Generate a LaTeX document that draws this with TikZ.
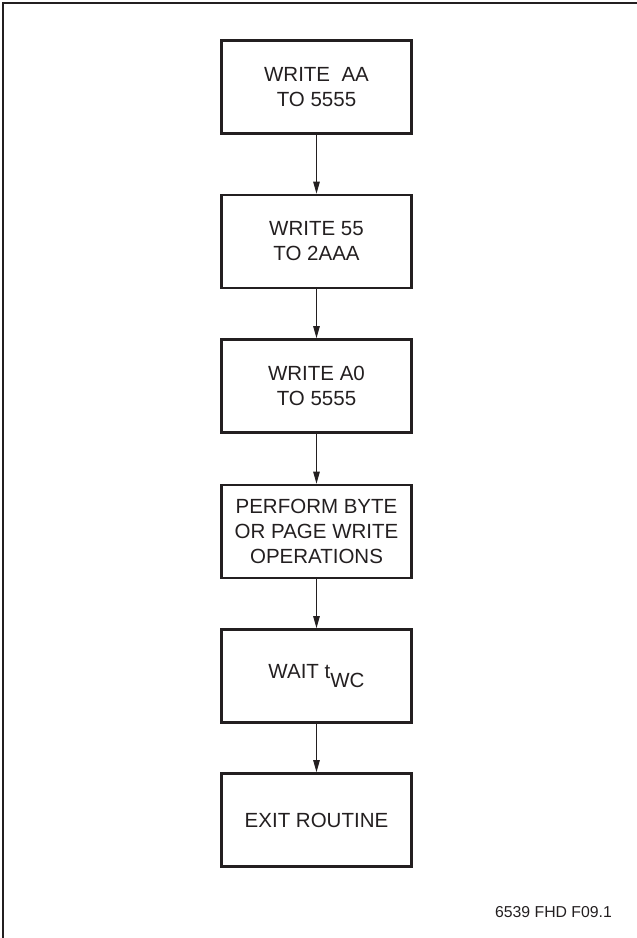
\documentclass[tikz,border=0pt]{standalone}
\usepackage{fontspec}
\setmainfont{Liberation Sans}
\usetikzlibrary{arrows.meta}

\definecolor{ink}{HTML}{231F20}
\tikzset{
  stepbox/.style={draw=ink,line width=2.6pt,minimum width=190pt,minimum height=93pt,
    align=center,text=ink,font=\fontsize{20.5}{25}\selectfont,inner sep=0pt},
  flow/.style={draw=ink,line width=1pt,-{Triangle[length=12pt,width=6.5pt]}}
}

\begin{document}
\begin{tikzpicture}[x=1pt,y=-1pt]
\useasboundingbox (0,0) rectangle (637,938);
% frame (only top and left edges show)
\draw[ink][line width=1.5pt](3,945)--(3,3)--(645,3);
\node (w1) at (316.5,87) [stepbox]{WRITE\ \ AA\\TO 5555};
\node (w2) at (316.5,241.5) [stepbox]{WRITE 55\\TO 2AAA};
\node (w3) at (316.5,386) [stepbox]{WRITE A0\\TO 5555};
\node (pw) at (316.5,531.5) [stepbox]{PERFORM BYTE\\OR PAGE WRITE\\OPERATIONS};
\node (wt) at (316.5,676) [stepbox]{WAIT t\raisebox{-0.45em}{WC}};
\node (ex) at (316.5,820) [stepbox]{EXIT ROUTINE};
\draw [flow](w1)--(w2);
\draw [flow](w2)--(w3);
\draw [flow](w3)--(pw);
\draw [flow](pw)--(wt);
\draw [flow](wt)--(ex);
\node (fig) at (553.5,912) [text=ink,font=\fontsize{15.8}{18}\selectfont]{6539 FHD F09.1};
\end{tikzpicture}
\end{document}
